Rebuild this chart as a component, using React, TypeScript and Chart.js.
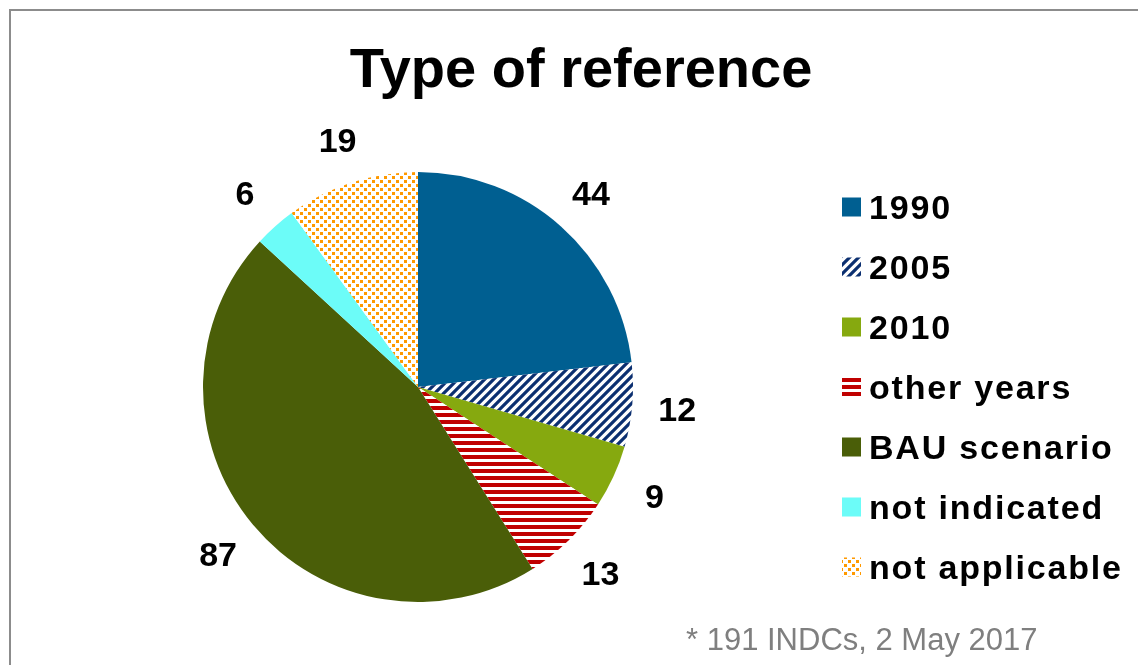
import React, { useEffect, useRef } from "react";
import { Chart, registerables } from "chart.js";

Chart.register(...registerables);

const TITLE = "Type of reference";
const FOOTNOTE = "* 191 INDCs, 2 May 2017";
const categories = ["1990", "2005", "2010", "other years", "BAU scenario", "not indicated", "not applicable"];
const counts = [44, 12, 9, 13, 87, 6, 19];

const FONT = '"Liberation Sans", Arial, sans-serif';

function makeTile(size: number, draw: (c: CanvasRenderingContext2D) => void): CanvasPattern {
  const cv = document.createElement("canvas");
  cv.width = size;
  cv.height = size;
  const c = cv.getContext("2d")!;
  c.fillStyle = "#ffffff";
  c.fillRect(0, 0, size, size);
  draw(c);
  return c.createPattern(cv, "repeat")!;
}

function buildFills(): (string | CanvasPattern)[] {
  const s = 9;
  const diag = makeTile(s, (c) => {
    c.strokeStyle = "#0B2F70";
    c.lineWidth = 3.2;
    c.beginPath();
    c.moveTo(-s / 2, s * 1.5);
    c.lineTo(s * 1.5, -s / 2);
    c.moveTo(-s / 2, s / 2);
    c.lineTo(s / 2, -s / 2);
    c.moveTo(s / 2, s * 1.5);
    c.lineTo(s * 1.5, s / 2);
    c.stroke();
  });
  const horiz = makeTile(7, (c) => {
    c.fillStyle = "#C00000";
    c.fillRect(0, 0, 7, 4);
  });
  const dots = makeTile(8, (c) => {
    c.fillStyle = "#FF9900";
    c.fillRect(0, 0, 3, 3);
    c.fillRect(4, 4, 3, 3);
  });
  return ["#005F91", diag, "#86A90F", horiz, "#4A5E08", "#6CFCF8", dots];
}

const decorPlugin = {
  id: "decor",
  beforeDraw(chart: any) {
    const ctx = chart.ctx as CanvasRenderingContext2D;
    ctx.save();
    ctx.fillStyle = "#ffffff";
    ctx.fillRect(0, 0, chart.width, chart.height);
    ctx.strokeStyle = "#8C8C8C";
    ctx.lineWidth = 2;
    ctx.beginPath();
    ctx.moveTo(10, chart.height + 5);
    ctx.lineTo(10, 10);
    ctx.lineTo(chart.width + 5, 10);
    ctx.stroke();
    ctx.restore();
  },
  afterDraw(chart: any) {
    const ctx = chart.ctx as CanvasRenderingContext2D;
    const meta = chart.getDatasetMeta(0);
    const ds = chart.data.datasets[0];
    ctx.save();
    // title
    ctx.fillStyle = "#000000";
    ctx.font = `bold 56px ${FONT}`;
    ctx.textAlign = "center";
    ctx.textBaseline = "alphabetic";
    ctx.fillText(TITLE, 581, 87);

    // value labels
    ctx.font = `bold 34px ${FONT}`;
    ctx.textBaseline = "middle";
    meta.data.forEach((arc: any, i: number) => {
      const p = arc.getProps(["x", "y", "startAngle", "endAngle", "outerRadius"], true);
      const mid = (p.startAngle + p.endAngle) / 2;
      const r = p.outerRadius * 1.21;
      ctx.fillText(String(ds.data[i]), p.x + Math.cos(mid) * r, p.y + Math.sin(mid) * r + 3);
    });

    // legend
    ctx.textAlign = "left";
    ctx.textBaseline = "alphabetic";
    (ctx as any).letterSpacing = "1.8px";
    chart.data.labels.forEach((lab: string, i: number) => {
      const cy = 207 + i * 60;
      ctx.fillStyle = ds.backgroundColor[i];
      ctx.fillRect(842, cy - 9.5, 19, 19);
      ctx.fillStyle = "#000000";
      ctx.fillText(lab, 869, cy + 12);
    });
    (ctx as any).letterSpacing = "0px";

    // footnote
    ctx.font = `31px ${FONT}`;
    ctx.fillStyle = "#7F7F7F";
    ctx.fillText(FOOTNOTE, 686, 650);
    ctx.restore();
  },
};

export default function App() {
  const ref = useRef<HTMLCanvasElement | null>(null);
  useEffect(() => {
    if (!ref.current) return;
    const fills = buildFills();
    const chart = new Chart(ref.current, {
      type: "pie",
      data: {
        labels: categories,
        datasets: [
          {
            data: counts,
            backgroundColor: fills as any,
            borderWidth: 0,
            hoverOffset: 0,
            offset: 0,
          },
        ],
      },
      options: {
        responsive: false,
        animation: false,
        layout: { padding: { left: 203, right: 505, top: 172, bottom: 63 } },
        plugins: {
          legend: { display: false },
          title: { display: false },
          tooltip: { enabled: false },
        },
      },
      plugins: [decorPlugin],
    });
    return () => chart.destroy();
  }, []);
  return (
    <div style={{ position: "absolute", left: 0, top: 0, width: 1138, height: 665, background: "#fff" }}>
      <canvas ref={ref} width={1138} height={665} style={{ width: 1138, height: 665, display: "block" }} />
    </div>
  );
}
